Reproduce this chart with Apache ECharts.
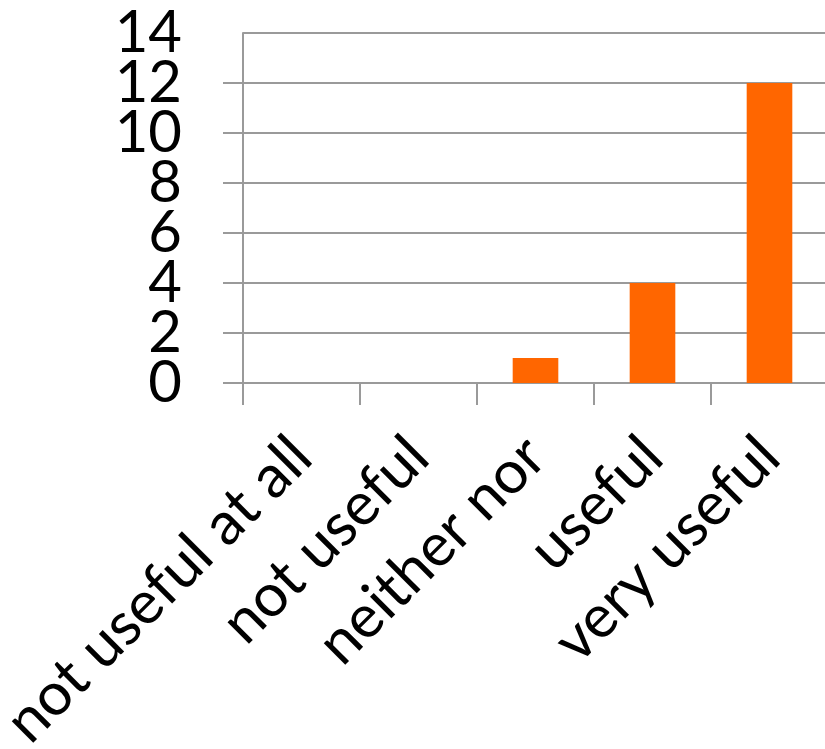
<!DOCTYPE html>
<html>
<head>
<meta charset="utf-8">
<script src="https://cdn.jsdelivr.net/npm/echarts@6/dist/echarts.min.js"></script>
<style>
	html, body { margin: 0; padding: 0; background: #fff; }
	#chart { width: 825px; height: 749px; }
</style>
</head>
<body>
<div id="chart"></div>
<script>
const categories = ['not useful at all', 'not useful', 'neither nor', 'useful', 'very useful'];
const counts = [0, 0, 1, 4, 12];
const yMax = 14;
const yStep = 2;

const axisGray = '#9a9a9a';
const font = 'Lato, "Open Sans", sans-serif';

const labelStyle = {
	margin: 61,
	hideOverlap: false,
	color: '#000',
	fontSize: 58,
	fontFamily: font,
};

// labels are tall, so alternate them on two stacked axes to keep ECharts from dropping any
const chart = echarts.init(document.getElementById('chart'));
chart.setOption({
	animation: false,
	grid: {
		top: 33,
		left: 243,
		right: -3,
		bottom: 366,
		outerBoundsMode: 'none',
		containLabel: false,
	},
	xAxis: {
		type: 'category',
		data: categories,
		axisLine: { show: true, lineStyle: { color: axisGray, width: 2 } },
		axisTick: { show: true, inside: false, length: 22, lineStyle: { color: axisGray, width: 2 } },
		axisLabel: {
			interval: 0,
			rotate: 45,
			margin: 64,
			hideOverlap: false,
			color: '#000',
			fontSize: 60,
			fontFamily: font,
		},
	},
	yAxis: [
		{
			type: 'value',
			position: 'left',
			min: 0,
			max: yMax,
			interval: yStep,
			axisLine: { show: true, lineStyle: { color: axisGray, width: 2 } },
			axisTick: { show: true, inside: false, length: 20, lineStyle: { color: axisGray, width: 2 } },
			splitLine: { show: true, lineStyle: { color: axisGray, width: 2 } },
			axisLabel: Object.assign({}, labelStyle, {
				showMinLabel: true,
				showMaxLabel: false,
				formatter: (value) => (value % (yStep * 2) === 0 ? `${value}` : ''),
			}),
		},
		{
			type: 'value',
			position: 'left',
			offset: 0,
			min: 0,
			max: yMax,
			interval: yStep,
			axisLine: { show: false },
			axisTick: { show: false },
			splitLine: { show: false },
			axisLabel: Object.assign({}, labelStyle, {
				showMinLabel: false,
				showMaxLabel: true,
				formatter: (value) => (value % (yStep * 2) !== 0 ? `${value}` : ''),
			}),
		},
	],
	series: [
		{
			type: 'bar',
			data: counts,
			barWidth: '39%',
			itemStyle: {
				color: '#ff6600',
			},
		},
	],
});
</script>
</body>
</html>
